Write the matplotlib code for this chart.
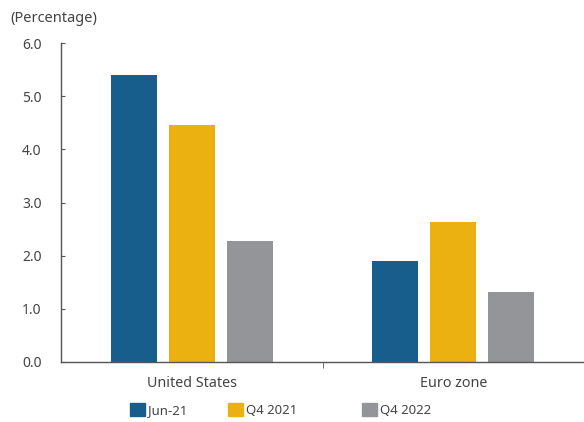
import matplotlib
matplotlib.use("Agg")
import matplotlib.pyplot as plt
from matplotlib.patches import Patch
import numpy as np

plt.rcParams['font.family'] = ['Noto Sans', 'DejaVu Sans']

categories = ["United States", "Euro zone"]
series_names = ["Jun-21", "Q4 2021", "Q4 2022"]
jun21 = [5.40, 1.90]
q4_2021 = [4.46, 2.63]
q4_2022 = [2.28, 1.32]
y_ticks = [0.0, 1.0, 2.0, 3.0, 4.0, 5.0, 6.0]

colors = ["#175E8C", "#EAB111", "#939598"]
text_color = "#444444"
spine_color = "#555555"

fig = plt.figure(figsize=(5.84, 4.22), dpi=100)
ax = fig.add_axes([0.1045, 0.1422, 0.8955, 0.7558])

x = np.arange(len(categories))
width = 0.176
offset = 0.222
for i, (vals, col) in enumerate(zip([jun21, q4_2021, q4_2022], colors)):
    ax.bar(x + (i - 1) * offset, vals, width=width, color=col, label=series_names[i])

ax.set_xlim(-0.5, 1.5)
ax.set_ylim(0, 6)
ax.set_yticks(y_ticks)
ax.set_yticklabels([f"{v:.1f}" for v in y_ticks])
ax.set_xticks(x)
ax.set_xticklabels(categories)
ax.set_xticks([0.5], minor=True)

for s in ["top", "right"]:
    ax.spines[s].set_visible(False)
for s in ["left", "bottom"]:
    ax.spines[s].set_color(spine_color)
    ax.spines[s].set_linewidth(1.0)

ax.tick_params(axis="y", direction="in", length=3, color=spine_color,
               labelcolor=text_color, labelsize=10, pad=14)
ax.tick_params(axis="x", which="major", length=0, labelcolor=text_color,
               labelsize=10.3, pad=10)
ax.tick_params(axis="x", which="minor", direction="out", length=4, color=spine_color)

fig.text(10 / 584, 1 - 18 / 422, "(Percentage)", color=text_color, fontsize=10.5,
         ha="left", va="center")

# legend items placed individually along the bottom
legend_x = [130 / 584, 228 / 584, 362 / 584]
for name, col, lx in zip(series_names, colors, legend_x):
    fig.legend(handles=[Patch(color=col)], labels=[name], loc="center left",
               bbox_to_anchor=(lx, 1 - 410 / 422), frameon=False, fontsize=9.5,
               handlelength=1.1, handleheight=1.1, handletextpad=0.3,
               labelcolor=text_color, borderaxespad=0, borderpad=0)

fig.savefig("out.png", dpi=100)
